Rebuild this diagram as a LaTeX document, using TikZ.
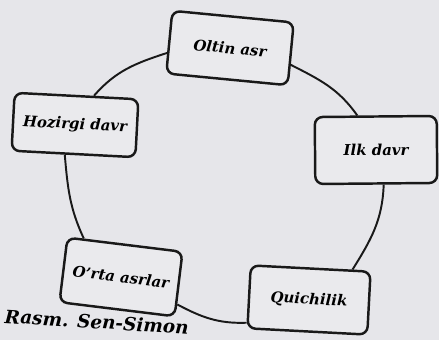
\documentclass[tikz,border=0pt]{standalone}
\usepackage{fontspec}
\setmainfont{DejaVu Serif}
\usepackage{tikz}
\usetikzlibrary{shapes, positioning}
\definecolor{paper}{RGB}{230,230,234}
\definecolor{boxfill}{RGB}{234,234,237}
\definecolor{ink}{RGB}{25,25,25}

\begin{document}
\begin{tikzpicture}[x=0.02cm, y=0.02cm,
        era/.style={draw=ink, line width=1.4pt, rounded corners=4.5pt, fill=boxfill, align=center, font=\fontsize{8.5}{10}\selectfont\bfseries\itshape},
        ring/.style={draw=ink, line width=1.1pt}]
        % Paper
        \fill[paper] (0,0) rectangle (439,-340);
        \useasboundingbox (0,0) rectangle (439,-340);

        % Nodes
        \node (oltin) [era, minimum width=2.44cm, minimum height=1.26cm, rotate=-5.5] at (230,-48) {Oltin asr};
        \node (hoz) [era, minimum width=2.48cm, minimum height=1.16cm, rotate=-3] at (75,-125) {Hozirgi davr};
        \node (ilk) [era, minimum width=2.44cm, minimum height=1.34cm, rotate=0.5] at (376,-150) {Ilk davr};
        \node (orta) [era, minimum width=2.32cm, minimum height=1.3cm, rotate=-7] at (121,-277) {O'rta asrlar};
        \node (quich) [era, minimum width=2.4cm, minimum height=1.26cm, rotate=-3] at (309,-300) {Quichilik};

        % Ring
        \draw[ring] (hoz.60) to[out=49, in=198] (oltin.190);
        \draw[ring] (oltin.-10) to[out=-27, in=125] (ilk.118);
        \draw[ring] (ilk.-78) to[out=-92, in=58] (quich.38);
        \draw[ring] (quich.203) to[out=182, in=-28] (orta.-19);
        \draw[ring] (orta.141) to[out=115, in=-85] (hoz.254);

        % Caption
        \node (caption) [anchor=base west, rotate=-3.5, inner sep=0pt, font=\fontsize{10.5}{12}\selectfont\bfseries\itshape] at (4,-323) {Rasm. Sen-Simon};
\end{tikzpicture}
\end{document}
